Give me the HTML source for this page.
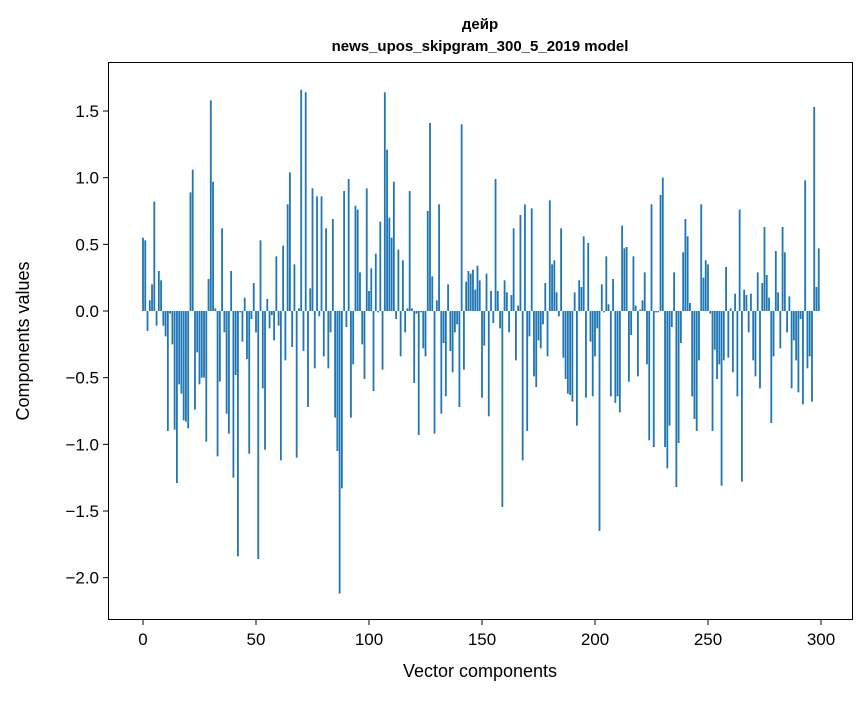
<!DOCTYPE html>
<html><head><meta charset="utf-8"><style>
body{margin:0;background:#fff;}
text{font-family:"Liberation Sans","DejaVu Sans",sans-serif;}
</style></head><body>
<svg id="chart" width="867" height="696" xmlns="http://www.w3.org/2000/svg">
<rect width="867" height="696" fill="#fff"/>
<text x="480" y="29" text-anchor="middle" font-size="15" font-weight="bold">дейр</text>
<text x="480" y="51" text-anchor="middle" font-size="15" font-weight="bold">news_upos_skipgram_300_5_2019 model</text>
<g id="bars"></g>
<rect x="108.5" y="62.5" width="744" height="557" fill="none" stroke="#000" stroke-width="1"/>
<g id="axes"></g>
<text x="480" y="677" text-anchor="middle" font-size="18">Vector components</text>
<text transform="translate(29,341) rotate(-90)" text-anchor="middle" font-size="18">Components values</text>
</svg>
<script>
const values = [0.55,0.53,-0.15,0.08,0.2,0.82,-0.11,0.3,0.23,-0.11,-0.19,-0.9,-0.02,-0.25,-0.89,-1.29,-0.55,-0.62,-0.82,-0.83,-0.88,0.89,1.06,-0.74,-0.31,-0.55,-0.5,-0.5,-0.98,0.24,1.58,0.97,0.02,-1.09,-0.53,0.62,-0.16,-0.77,-0.92,0.3,-1.25,-0.48,-1.84,-0.01,-0.23,0.1,-0.36,-1.07,-0.06,0.21,
-0.16,-1.86,0.53,-0.58,-1.04,0.09,-0.13,-0.03,-0.22,0.41,-0.11,-1.12,0.49,-0.37,0.8,1.04,-0.27,0.35,-1.1,0.02,1.66,-0.3,1.64,-0.72,0.17,0.92,-0.43,0.86,-0.04,0.86,-0.34,0.62,-0.43,-0.16,0.69,-0.8,-1.05,-2.12,-1.33,0.9,-0.12,0.99,-0.8,-0.4,0.79,0.76,0.29,-0.25,-0.51,0.92,
0.15,0.32,-0.6,0.43,-0.01,0.67,-0.44,1.64,1.21,0.7,0.55,0.97,-0.06,0.46,-0.34,0.38,-0.16,0.02,0.9,0.02,-0.54,-0.02,-0.93,-0.01,-0.28,-0.34,0.75,1.41,0.26,-0.92,0.08,0.8,-0.77,-0.24,-0.64,0.2,-0.3,-0.46,-0.16,-0.1,-0.72,1.4,-0.44,0.22,0.3,0.28,0.31,0.16,0.34,0.23,
-0.65,-0.26,0.28,-0.79,0.15,-0.09,0.99,0.15,-0.13,-1.47,0.23,0.14,-0.16,0.12,0.62,-0.37,0.04,0.72,-1.12,0.8,-0.9,-0.19,0.77,-0.49,-0.57,-0.22,-0.28,-0.1,0.21,-0.34,0.83,0.35,0.38,0.14,-0.04,0.62,-0.35,-0.51,-0.62,-0.63,-0.68,0.14,-0.86,0.23,0.18,0.56,-0.65,0.51,-0.23,-0.64,
-0.34,-0.13,-1.65,0.2,-0.01,0.41,0.05,-0.64,0.24,-0.69,-0.64,-0.76,0.64,0.47,0.48,-0.53,-0.18,0.41,0.04,-0.49,0.01,0.08,0.29,-0.4,-0.97,0.8,-1.02,-0.01,-0.01,0.87,1.0,-1.02,-1.18,-0.86,-0.12,0.29,-1.32,-0.99,-0.24,0.44,0.69,0.56,0.06,-0.64,-0.81,-0.9,-0.37,0.8,0.25,0.38,
0.35,-0.02,-0.9,-0.29,-0.51,-0.4,-1.31,-0.37,0.33,-0.35,0.02,-0.46,0.13,-0.64,0.76,-1.28,0.16,0.12,-0.16,0.13,-0.37,-0.49,0.29,-0.58,0.21,0.63,0.27,0.1,-0.84,-0.34,0.45,0.14,-0.28,0.63,0.44,-0.16,0.11,-0.58,-0.22,-0.37,-0.61,-0.06,-0.7,0.98,-0.43,-0.34,-0.68,1.53,0.18,0.47];
const yTicks = [1.5,1.0,0.5,0.0,-0.5,-1.0,-1.5,-2.0];
const yTickLabels = ["1.5","1.0","0.5","0.0","\u22120.5","\u22121.0","\u22121.5","\u22122.0"];
const xTicks = [0,50,100,150,200,250,300];
const xTickLabels = ["0","50","100","150","200","250","300"];

const NS="http://www.w3.org/2000/svg";
function xs(v){return 143+v*2.26;}
function ys(v){return 311-v*133.33;}
const bw=2.26*0.8;
const bars=document.getElementById('bars');
values.forEach((v,i)=>{
  const r=document.createElementNS(NS,'rect');
  
  
  const y0=ys(0),y1=ys(v);
  r.setAttribute('x',xs(i)-bw/2);
  r.setAttribute('y',Math.min(y0,y1));
  r.setAttribute('width',bw);
  r.setAttribute('height',Math.abs(y1-y0));
  r.setAttribute('fill','#1f77b4');
  bars.appendChild(r);
});
const axes=document.getElementById('axes');
yTicks.forEach((t,i)=>{
  const y=ys(t);
  const l=document.createElementNS(NS,'line');
  
  
  l.setAttribute('x1',103);l.setAttribute('x2',108);l.setAttribute('y1',y);l.setAttribute('y2',y);
  l.setAttribute('stroke','#000');
  axes.appendChild(l);
  const tx=document.createElementNS(NS,'text');
  
  
  tx.setAttribute('x',99);tx.setAttribute('y',y+6);
  tx.setAttribute('text-anchor','end');tx.setAttribute('font-size','17');
  tx.textContent=yTickLabels[i];
  axes.appendChild(tx);
});
xTicks.forEach((t,i)=>{
  const x=xs(t);
  const l=document.createElementNS(NS,'line');
  
  
  l.setAttribute('x1',x);l.setAttribute('x2',x);l.setAttribute('y1',620);l.setAttribute('y2',625);
  l.setAttribute('stroke','#000');
  axes.appendChild(l);
  const tx=document.createElementNS(NS,'text');
  
  
  tx.setAttribute('x',x);tx.setAttribute('y',645);
  tx.setAttribute('text-anchor','middle');tx.setAttribute('font-size','17');
  tx.textContent=xTickLabels[i];
  axes.appendChild(tx);
});
</script>
</body></html>
